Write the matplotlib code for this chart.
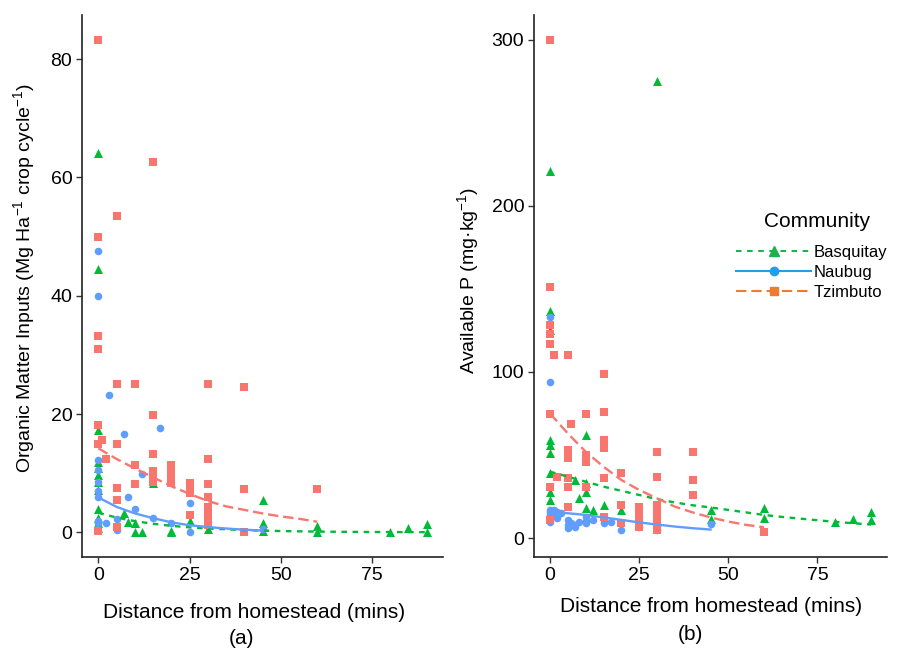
import numpy as np
import matplotlib.pyplot as plt
from matplotlib.lines import Line2D

plt.rcParams['font.family'] = ['Liberation Sans', 'DejaVu Sans']
plt.rcParams['mathtext.fontset'] = 'custom'
plt.rcParams['mathtext.rm'] = 'Liberation Sans'
plt.rcParams['mathtext.it'] = 'Liberation Sans:italic'
plt.rcParams['mathtext.bf'] = 'Liberation Sans:bold'
plt.rcParams['lines.scale_dashes'] = False

communities = ['Basquitay', 'Naubug', 'Tzimbuto']

# ---- (a) organic matter inputs ----
om_basq_x = [0, 0, 0, 0, 0, 0, 0, 0, 0, 0, 0, 0, 7, 8, 10, 10, 12, 15, 20, 20, 25, 30,
             45, 45, 45, 60, 60, 80, 85, 90, 90]
om_basq_y = [64.2, 44.6, 17.3, 11.9, 10.8, 9.7, 8.5, 7.1, 4.0, 2.5, 1.5, 0.8, 3.2, 1.7, 1.5, 0.1,
             0.0, 8.3, 0.3, 0.0, 2.0, 0.5, 5.5, 1.5, 0.3, 1.0, 0.0, 0.0, 0.7, 1.4, 0.0]
om_naub_x = [0, 0, 0, 0, 0, 0, 0, 0, 0, 2, 3, 5, 5, 7, 8, 10, 12, 15, 17, 20, 25, 25, 30, 30, 45]
om_naub_y = [47.6, 40.0, 12.3, 10.5, 8.5, 7.0, 6.0, 2.0, 1.5, 1.5, 23.2, 2.2, 0.4, 16.6, 6.0,
             3.9, 9.8, 2.5, 17.7, 1.6, 4.9, 0.0, 6.0, 1.7, 0.5]
om_tzim_x = [0, 0, 0, 0, 0, 0, 0, 1, 2, 5, 5, 5, 5, 5, 5, 10, 10, 10, 15, 15, 15, 15, 15, 15,
             20, 20, 20, 20, 25, 25, 25, 25, 30, 30, 30, 30, 30, 30, 30, 30, 40, 40, 40, 60]
om_tzim_y = [83.3, 50.0, 33.2, 31.0, 18.1, 15.0, 0.3, 15.6, 12.4, 53.5, 25.0, 14.9, 7.5, 5.4, 0.9,
             25.0, 11.4, 8.1, 62.6, 19.8, 13.2, 10.3, 9.4, 8.5, 11.4, 10.4, 9.4, 8.4,
             8.3, 7.5, 6.6, 2.9, 25.0, 12.4, 8.1, 6.0, 4.3, 3.0, 2.0, 1.2, 24.6, 7.4, 0.0, 7.3]

# trend curves of (a)
om_trend_basq_x = [0, 5, 10, 15, 20, 25, 30, 40, 50, 60, 70, 80, 90]
om_trend_basq_y = [3.3, 2.5, 1.9, 1.45, 1.1, 0.85, 0.65, 0.38, 0.22, 0.13, 0.08, 0.05, 0.03]
om_trend_naub_x = [0, 5, 10, 15, 20, 25, 30, 35, 40, 45]
om_trend_naub_y = [5.9, 4.3, 3.2, 2.4, 1.7, 1.2, 0.9, 0.65, 0.45, 0.3]
om_trend_tzim_x = [0, 5, 10, 15, 20, 25, 30, 35, 40, 45, 50, 55, 60]
om_trend_tzim_y = [14.2, 12.4, 10.8, 9.3, 7.8, 6.5, 5.3, 4.4, 3.8, 3.2, 2.7, 2.3, 1.8]

# ---- (b) available P ----
p_basq_x = [0, 0, 0, 0, 0, 0, 0, 0, 0, 7, 8, 10, 10, 10, 10, 10, 12, 15, 20, 30,
            45, 45, 60, 60, 80, 85, 90, 90]
p_basq_y = [221, 137, 125, 59, 56, 51, 39, 28, 23, 35, 24, 62, 33, 28, 18, 12, 17, 20, 17, 275,
            17, 11.5, 18, 12, 9.5, 11.5, 15.5, 11]
p_naub_x = [0, 0, 0, 0, 0, 0, 0, 0, 1, 1, 2, 2, 3, 5, 5, 5, 6, 7, 7, 8, 10, 10, 12, 15, 15,
            17, 20, 25, 30, 30, 45]
p_naub_y = [133, 94, 17, 16, 14, 12, 11, 10, 17, 15, 16, 12, 15, 11, 8, 6, 9, 8, 7, 10, 13, 9,
            11, 11, 9, 10, 5, 7, 5, 8, 8.5]
p_tzim_x = [0, 0, 0, 0, 0, 0, 0, 0, 1, 2, 5, 5, 5, 5, 5, 5, 6, 10, 10, 10, 10,
            15, 15, 15, 15, 15, 15, 20, 20, 20, 25, 25, 25, 25,
            30, 30, 30, 30, 30, 30, 30, 40, 40, 40, 60]
p_tzim_y = [300, 151, 128, 123, 117, 75, 31, 11, 110, 37, 110, 53, 48, 36, 31, 19, 69, 75, 50, 46, 31,
            99, 76, 59, 54, 36, 13, 39, 20, 9, 19, 14, 10, 7,
            52, 37, 20, 16, 12, 8, 5, 52, 35, 26, 3.5]

p_trend_basq_x = [0, 5, 10, 15, 20, 25, 30, 35, 40, 45, 50, 55, 60, 65, 70, 75, 80, 85, 90]
p_trend_basq_y = [40, 37, 34, 31, 28.5, 26, 23.5, 21.5, 19.8, 18.5, 17, 15.5, 14, 12.8, 11.8,
                  10.8, 9.8, 9.0, 8.2]
p_trend_naub_x = [0, 5, 10, 15, 20, 25, 30, 35, 40, 45]
p_trend_naub_y = [16, 15, 14, 12.5, 11, 9.5, 8.2, 7, 6, 5.2]
p_trend_tzim_x = [0, 5, 10, 15, 20, 25, 30, 35, 40, 45, 50, 55, 60]
p_trend_tzim_y = [75, 63, 52, 43, 35, 29, 24, 19, 15.5, 12.5, 10, 8, 6.6]

x_ticks = [0, 25, 50, 75]
om_ticks = [0, 20, 40, 60, 80]
p_ticks = [0, 100, 200, 300]

# styles
point_col = {'Basquitay': '#00BA38', 'Naubug': '#619CFF', 'Tzimbuto': '#F8766D'}
marker = {'Basquitay': '^', 'Naubug': 'o', 'Tzimbuto': 's'}
msize = {'Basquitay': 42, 'Naubug': 30, 'Tzimbuto': 30}
dash = {'Basquitay': (0, (4.0, 4.0)), 'Naubug': '-', 'Tzimbuto': (0, (7.5, 3.5))}
legend_col = {'Basquitay': '#1DB34A', 'Naubug': '#1E9FE6', 'Tzimbuto': '#EE7B30'}
legend_ms = {'Basquitay': 6.5, 'Naubug': 6, 'Tzimbuto': 5.5}

W, H = 901, 648


def fx(px):
    return px / W


def fy(py):
    return 1 - py / H


def draw_panel(ax, pts, trends, yticks):
    for name in communities:
        x, y = pts[name]
        ax.scatter(x, y, s=msize[name], marker=marker[name], c=point_col[name],
                   linewidths=0, zorder=2)
    for name in communities:
        x, y = trends[name]
        ax.plot(x, y, color=point_col[name], lw=1.7, linestyle=dash[name], zorder=3)

    # ggplot style 5% expansion
    allx = np.concatenate([pts[n][0] for n in communities]).astype(float)
    ally = np.concatenate([pts[n][1] for n in communities]).astype(float)
    dx = 0.05 * (allx.max() - allx.min())
    dy = 0.05 * (ally.max() - ally.min())
    ax.set_xlim(allx.min() - dx, allx.max() + dx)
    ax.set_ylim(ally.min() - dy, ally.max() + dy)

    ax.set_xticks(x_ticks)
    ax.set_yticks(yticks)
    for s in ['top', 'right']:
        ax.spines[s].set_visible(False)
    for s in ['left', 'bottom']:
        ax.spines[s].set_linewidth(1.2)
        ax.spines[s].set_color('#222222')
    ax.tick_params(direction='out', length=4, width=1, color='#333333',
                   labelsize=14, labelcolor='black', pad=3)


fig = plt.figure(figsize=(9.01, 6.48), dpi=100)
ax1 = fig.add_axes([fx(82), fy(557), fx(443) - fx(82), fy(15) - fy(557)])
ax2 = fig.add_axes([fx(534), fy(557), fx(887) - fx(534), fy(15) - fy(557)])

draw_panel(ax1,
           {'Basquitay': (om_basq_x, om_basq_y), 'Naubug': (om_naub_x, om_naub_y),
            'Tzimbuto': (om_tzim_x, om_tzim_y)},
           {'Basquitay': (om_trend_basq_x, om_trend_basq_y),
            'Naubug': (om_trend_naub_x, om_trend_naub_y),
            'Tzimbuto': (om_trend_tzim_x, om_trend_tzim_y)},
           om_ticks)
draw_panel(ax2,
           {'Basquitay': (p_basq_x, p_basq_y), 'Naubug': (p_naub_x, p_naub_y),
            'Tzimbuto': (p_tzim_x, p_tzim_y)},
           {'Basquitay': (p_trend_basq_x, p_trend_basq_y),
            'Naubug': (p_trend_naub_x, p_trend_naub_y),
            'Tzimbuto': (p_trend_tzim_x, p_trend_tzim_y)},
           p_ticks)

# axis titles
lab = dict(color='black', ha='center', va='center')
fig.text(fx(24), fy(278), 'Organic Matter Inputs (Mg Ha$^{-1}$ crop cycle$^{-1}$)',
         rotation=90, fontsize=14, **lab)
fig.text(fx(468), fy(280), 'Available P (mg\u00b7kg$^{-1}$)', rotation=90, fontsize=14, **lab)
fig.text(fx(254), fy(613), 'Distance from homestead (mins)', fontsize=15, **lab)
fig.text(fx(242), fy(638), '(a)', fontsize=15, **lab)
fig.text(fx(711), fy(607), 'Distance from homestead (mins)', fontsize=15, **lab)
fig.text(fx(690), fy(634), '(b)', fontsize=15, **lab)

# legend (added separately in the original, with different colours)
fig.text(fx(817), fy(221), 'Community', fontsize=15, **lab)
handles = [Line2D([], [], color=legend_col[n], marker=marker[n], markersize=legend_ms[n],
                  linestyle=dash[n], lw=1.5) for n in communities]
leg = fig.legend(handles, communities, loc='upper left',
                 bbox_to_anchor=(fx(736), fy(245)), frameon=False, fontsize=12,
                 handlelength=4.5, handletextpad=0.15,
                 labelspacing=0.3, borderpad=0, borderaxespad=0)

fig.savefig('out.png', dpi=100)
